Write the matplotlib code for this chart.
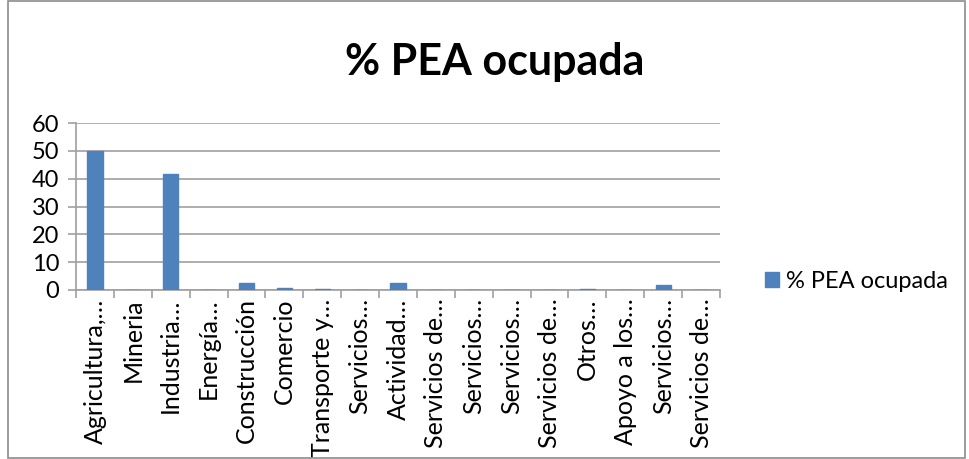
import matplotlib.pyplot as plt
from matplotlib.patches import Rectangle
import numpy as np

categorias = ["Agricultura,…", "Mineria", "Industria…", "Energía…", "Construcción",
              "Comercio", "Transporte y…", "Servicios…", "Actividad…", "Servicios de…",
              "Servicios…", "Servicios…", "Servicios de…", "Otros…", "Apoyo a los…",
              "Servicios…", "Servicios de…"]
pea_ocupada = [49.8, 0.0, 41.5, 0.0, 2.5, 0.6, 0.2, 0.0, 2.5, 0.0,
               0.0, 0.1, 0.1, 0.2, 0.0, 1.7, 0.0]
yticks = [0, 10, 20, 30, 40, 50, 60]

plt.rcParams['font.family'] = ['Lato', 'DejaVu Sans']

fig = plt.figure(figsize=(9.7, 4.59), dpi=100)
ax = fig.add_axes([76/970, 1 - 290/459, (720-76)/970, (290-123)/459])

x = np.arange(len(categorias))
bars = ax.bar(x, pea_ocupada, width=0.4, color="#4F81BD", edgecolor="#4F81BD",
              label="% PEA ocupada", zorder=3)

ax.set_xlim(-0.5, len(categorias) - 0.5)
ax.set_ylim(0, 60)
ax.set_yticks(yticks)
ax.set_yticklabels([str(v) for v in yticks], fontsize=17)
ax.grid(axis="y", color="#A0A0A0", linewidth=1.2, zorder=0)

ax.set_xticks(x)
ax.set_xticklabels(categorias, rotation=90, fontsize=18)
ax.tick_params(axis="x", length=0, pad=6)
# separator ticks between categories
ax.set_xticks(np.arange(-0.5, len(categorias)), minor=True)
ax.tick_params(axis="x", which="minor", length=6, color="#A0A0A0", width=1.2)
ax.tick_params(axis="y", length=6, color="#A0A0A0", width=1.2, pad=6)

for s in ["top", "right"]:
    ax.spines[s].set_visible(False)
for s in ["left", "bottom"]:
    ax.spines[s].set_color("#A0A0A0")
    ax.spines[s].set_linewidth(1.2)

fig.text(495/970, 1 - 62/459, "% PEA ocupada", ha="center", va="center",
         fontsize=31, fontweight="bold")

fig.legend(handles=[bars], labels=["% PEA ocupada"], loc="center left",
           bbox_to_anchor=(744/970, 1 - 281/459), frameon=False, fontsize=17,
           handlelength=0.6, handleheight=0.6, handletextpad=0.3)

fig.patches.append(Rectangle((8/970, 0.002), (965-8)/970, 0.996, transform=fig.transFigure,
                             fill=False, edgecolor="#8C8C8C", linewidth=1.2))

fig.savefig("out.png", dpi=100)
